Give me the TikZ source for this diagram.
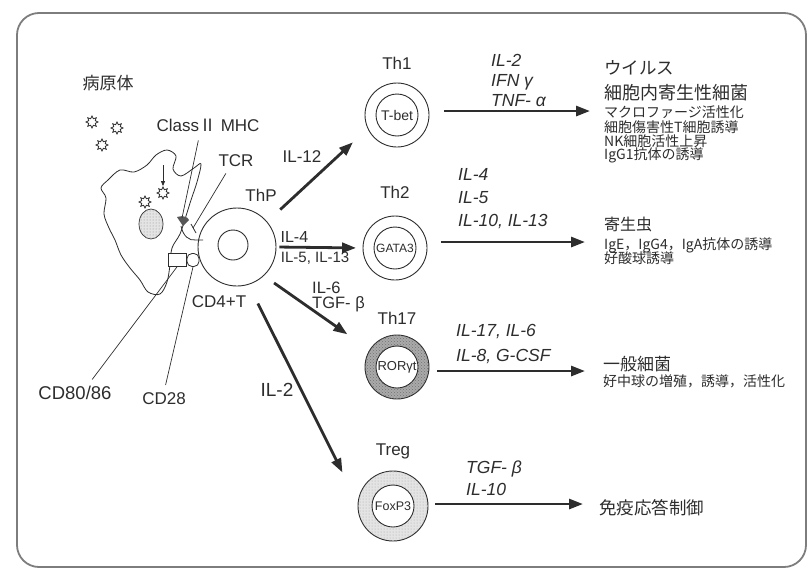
\documentclass[tikz,border=0pt]{standalone}
\usepackage{fontspec}
\setmainfont{Liberation Sans}
\newfontfamily\jp{Noto Sans CJK JP}
\usetikzlibrary{arrows.meta,positioning,shapes.geometric,patterns}
\definecolor{ink}{RGB}{45,45,45}
\definecolor{frameg}{RGB}{125,125,125}
\definecolor{tone}{RGB}{170,170,170}
\definecolor{lighttone}{RGB}{228,228,228}

\begin{document}
\begin{tikzpicture}[x=1pt, y=-1pt,
  lab/.style={font=\fontsize{17}{20}\selectfont, inner sep=1pt, text=ink},
  cyto/.style={font=\fontsize{17.5}{20}\selectfont\itshape, align=left, inner sep=1pt, anchor=west, text=ink},
  tcell/.style={circle, draw=ink, line width=0.9pt, fill=white, minimum size=64pt, inner sep=0pt},
  core/.style={circle, draw=ink, line width=0.9pt, fill=white, minimum size=42pt, inner sep=0pt, text=ink},
  arr/.style={-{Triangle[length=14pt,width=10pt]}, line width=2.8pt, draw=ink},
  ptr/.style={line width=0.7pt, draw=ink},
  germ/.style={star, star points=8, star point ratio=1.7, draw=ink, line width=0.8pt, fill=white, minimum size=12pt, inner sep=0pt},
  effect/.style={font=\jp\fontsize{14}{15}\selectfont, anchor=west, inner sep=1pt, text=ink},
  effbig/.style={effect, font=\jp\fontsize{17.5}{19}\selectfont}]
  \useasboundingbox (0,0) rectangle (808,571);
  \draw[frameg, line width=1.8pt, rounded corners=22pt] (17,13) rectangle (806,567);

  % antigen presenting cell
  \draw[ink, line width=0.8pt, fill=white] plot[smooth cycle, tension=0.55] coordinates {
    (108,180) (120,170) (134,172) (147,165) (156,155) (167,150) (176,156) (173,169)
    (181,176) (194,168) (201,164) (197,182) (191,200) (186,216) (180,234) (172,248)
    (170,265) (167,282) (160,294) (148,292) (140,280) (130,268) (121,255) (115,240)
    (109,228) (104,214) (106,198) (101,188)};
  \draw[ink, line width=0.7pt, fill=lighttone, postaction={pattern=dots, pattern color=black!45}] (151,224) ellipse (12 and 15);
  \node[font=\jp\fontsize{17}{18}\selectfont, text=ink] (pathlab) at (108,83) {病原体};
  \node[germ] (g1) at (92,122) {};
  \node[germ] (g2) at (117,128) {};
  \node[germ] (g3) at (102,145) {};
  \node[germ] (g4) at (163,193) {};
  \node[germ] (g5) at (145,202) {};
  \coordinate (uptake) at (163,165);
  \draw[ink, line width=0.8pt, -{Triangle[length=5pt,width=4pt]}] (uptake) -- (g4);

  % naive T cell
  \node[tcell, minimum size=78pt] (thp) at (237,247) {};
  \node[tcell, minimum size=30pt] (thpn) at (233,245) {};

  % synapse: MHC, TCR, costimulation
  \fill[ink!80] (177,217) .. controls (183,215) and (188,217) .. (189,220) -- (183,226) .. controls (181,223) and (179,220) .. cycle;
  \coordinate (mhc) at (182,218);
  \draw[ink, line width=0.8pt] (181,226) .. controls (183,236) and (189,241) .. (196,240) -- (203,240);
  \draw[ink, line width=0.8pt] (191,224) -- (196,233);
  \coordinate (tcr) at (193,228);
  \node[draw=ink, line width=0.8pt, fill=white, minimum width=18pt, minimum height=13pt, inner sep=0pt] (b7) at (177,260) {};
  \node[draw=ink, line width=0.8pt, fill=white, rounded corners=5pt, minimum width=12pt, minimum height=13pt, inner sep=0pt] (cd28) at (193,260) {};

  \node[lab] (mhclab) at (208,125) {Class{\jp Ⅱ} MHC};
  \node[lab] (tcrlab) at (236,161) {TCR};
  \node[lab] (thplab) at (261,195) {ThP};
  \node[lab] (cd4lab) at (219,302) {CD4+T};
  \node[lab, font=\fontsize{18.5}{20}\selectfont] (b7lab) at (75,393) {CD80/86};
  \node[lab] (cd28lab) at (164,399) {CD28};
  \draw[ptr, shorten <=8pt] ([xshift=-8pt]mhclab.south) -- (mhc);
  \draw[ptr, shorten <=6pt] ([xshift=-7pt]tcrlab.south) -- (tcr);
  \draw[ptr, shorten <=7pt] ([xshift=13pt]b7lab.north) -- (b7.south);
  \draw[ptr, shorten <=7pt] (cd28lab.north) -- (cd28.south);

  % effector subsets
  \node[tcell] (th1) at (397,115) {};
  \node[core, font=\fontsize{14}{14}\selectfont] (th1c) at (th1) {T-bet};
  \node[lab, above=12pt of th1] (th1lab) {Th1};
  \node[tcell] (th2) at (395,248) {};
  \node[core, font=\fontsize{12}{12}\selectfont] (th2c) at (th2) {GATA3};
  \node[lab, above=16pt of th2] (th2lab) {Th2};
  \node[tcell, fill=tone, postaction={pattern=crosshatch dots, pattern color=black!55}] (th17) at (397,367) {};
  \node[core, font=\fontsize{13}{13}\selectfont] (th17c) at (th17) {RORγt};
  \node[lab, above=9pt of th17] (th17lab) {Th17};
  \node[tcell, minimum size=70pt, fill=lighttone, postaction={pattern=dots, pattern color=black!35}] (treg) at (393,506) {};
  \node[core, font=\fontsize{12.5}{12.5}\selectfont] (tregc) at (treg) {FoxP3};
  \node[lab, above=10pt of treg] (treglab) {Treg};

  % differentiation
  \draw[arr, shorten <=17.7pt, shorten >=20pt] (thp.40) -- (th1.205);
  \draw[arr, shorten <=3pt, shorten >=6.5pt] (thp.east) -- (th2.west)
    node[lab, pos=0, above right=2.5pt, font=\fontsize{16}{18}\selectfont]{IL-4}
    node[lab, pos=0, below right=3pt, font=\fontsize{15}{18}\selectfont]{IL-5, IL-13};
  \draw[arr, shorten <=12.4pt, shorten >=27pt] (thp.-47) -- (th17.148);
  \draw[arr, shorten <=21pt, shorten >=34pt] (thp.-73) -- (treg.175);
  \node[lab] (l12) at (302,157) {IL-12};
  \node[lab, align=left, anchor=north west, font=\fontsize{16.5}{15}\selectfont] (l6) at (311,281) {IL-6\\TGF- β};
  \node[lab, font=\fontsize{19}{20}\selectfont] (l2) at (277,390) {IL-2};

  % cytokines
  \node[cyto] (th1cy) at (490,80) {IL-2\\IFN γ\\TNF- α};
  \node[cyto] (th2cy) at (457,199) {IL-4\\[3pt]IL-5\\[3pt]IL-10, IL-13};
  \node[cyto] (th17cy) at (455,344) {IL-17, IL-6\\[5pt]IL-8, G-CSF};
  \node[cyto] (tregcy) at (465,478) {TGF- β\\[2pt]IL-10};

  % functions
  \node[effbig] (vir) at (603,68) {ウイルス};
  \node[effbig, font=\jp\fontsize{18}{19}\selectfont] (intra) at (603,93) {細胞内寄生性細菌};
  \node[effect] (mac) at (603,112) {マクロファージ活性化};
  \node[effect] (ctl) at (603,127) {細胞傷害性T細胞誘導};
  \node[effect] (nk) at (603,141) {NK細胞活性上昇};
  \node[effect] (igg1) at (603,155) {IgG1抗体の誘導};
  \node[effbig, font=\jp\fontsize{16}{18}\selectfont] (para) at (603,224) {寄生虫};
  \node[effect] (ige) at (603,245) {IgE，IgG4，IgA抗体の誘導};
  \node[effect] (eos) at (603,258) {好酸球誘導};
  \node[effbig, font=\jp\fontsize{17}{18}\selectfont] (bact) at (602,364) {一般細菌};
  \node[effect] (neu) at (602,381) {好中球の増殖，誘導，活性化};
  \node[effbig] (reg) at (598,508) {免疫応答制御};

  \coordinate (tip1) at (590,111);
  \coordinate (tip2) at (585,242);
  \coordinate (tip17) at (585,371);
  \coordinate (tipreg) at (583,504);
  \draw[arr, shorten <=15pt] (tip1 -| th1.east) -- (tip1);
  \draw[arr, shorten <=13.5pt] (tip2 -| th2.east) -- (tip2);
  \draw[arr, shorten <=8pt] (tip17 -| th17.east) -- (tip17);
  \draw[arr, shorten <=7pt] (tipreg -| treg.east) -- (tipreg);
\end{tikzpicture}
\end{document}
